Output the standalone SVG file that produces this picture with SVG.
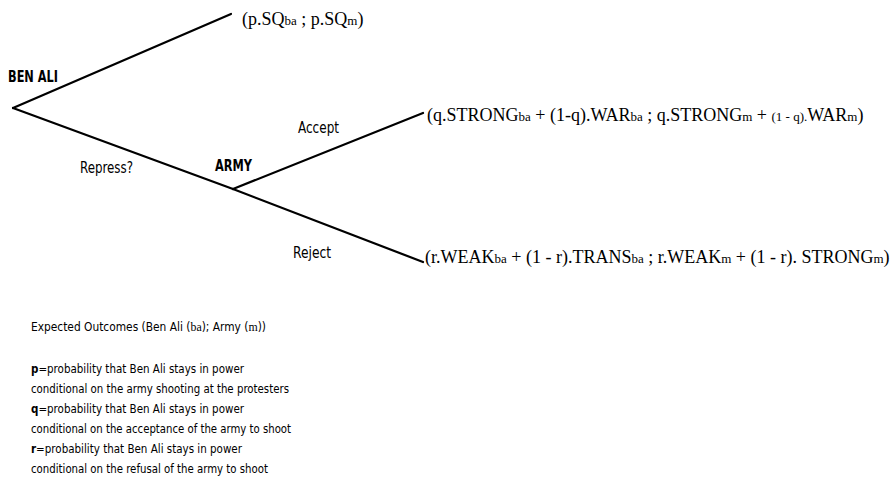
<svg xmlns="http://www.w3.org/2000/svg" width="895" height="480" viewBox="0 0 895 480">
<style>
.edge{stroke:#000;stroke-width:2.2;fill:none;stroke-linecap:round}
.lbl{font-family:"DejaVu Sans Condensed","Liberation Sans",sans-serif;font-stretch:condensed;font-size:15px;fill:#000}
.b{font-weight:bold;font-size:16px}
.pay{font-family:"Liberation Serif","DejaVu Serif",serif;font-size:18px;fill:#000}
.sub{font-size:13px}
.note{font-family:"DejaVu Sans Condensed","Liberation Sans",sans-serif;font-stretch:condensed;font-size:12px;fill:#000}
.ser{font-family:"Liberation Serif","DejaVu Serif",serif}
</style>
<rect width="895" height="480" fill="#fff"/>
<g id="connectors">
<line class="edge" x1="13" y1="108" x2="231" y2="14"/>
<line class="edge" x1="13" y1="108" x2="233" y2="189"/>
<line class="edge" x1="233" y1="189" x2="423" y2="113"/>
<line class="edge" x1="233" y1="189" x2="423" y2="262"/>
<text class="lbl" x="80" y="173" textLength="53" lengthAdjust="spacingAndGlyphs">Repress?</text>
<text class="lbl" x="298" y="133" textLength="41" lengthAdjust="spacingAndGlyphs">Accept</text>
<text class="lbl" x="293" y="258" textLength="38" lengthAdjust="spacingAndGlyphs">Reject</text>
</g>
<g id="benali"><text class="lbl b" x="8" y="82" textLength="50" lengthAdjust="spacingAndGlyphs">BEN ALI</text></g>
<g id="army"><text class="lbl b" x="215" y="171" textLength="37" lengthAdjust="spacingAndGlyphs">ARMY</text></g>
<g id="outcome-sq"><text class="pay" x="242" y="25">(p.SQ<tspan class="sub">ba</tspan> ; p.SQ<tspan class="sub">m</tspan>)</text></g>
<g id="outcome-accept"><text class="pay" x="427" y="121">(q.STRONG<tspan class="sub">ba</tspan> + (1-q).WAR<tspan class="sub">ba</tspan> ; q.STRONG<tspan class="sub">m</tspan> + <tspan class="sub">(1 - q).</tspan>WAR<tspan class="sub">m</tspan>)</text></g>
<g id="outcome-reject"><text class="pay" x="425" y="263">(r.WEAK<tspan class="sub">ba</tspan> + (1 - r).TRANS<tspan class="sub">ba</tspan> ; r.WEAK<tspan class="sub">m</tspan> + (1 - r). STRONG<tspan class="sub">m</tspan>)</text></g>
<g id="legend">
<text class="note" x="31" y="331" textLength="235" lengthAdjust="spacingAndGlyphs">Expected Outcomes (Ben Ali (<tspan class="ser">ba</tspan>); Army (<tspan class="ser">m</tspan>))</text>
<text class="note" x="31" y="373" textLength="213" lengthAdjust="spacingAndGlyphs"><tspan font-weight="bold">p</tspan>=probability that Ben Ali stays in power</text>
<text class="note" x="31" y="393" textLength="258" lengthAdjust="spacingAndGlyphs">conditional on the army shooting at the protesters</text>
<text class="note" x="31" y="413" textLength="213" lengthAdjust="spacingAndGlyphs"><tspan font-weight="bold">q</tspan>=probability that Ben Ali stays in power</text>
<text class="note" x="31" y="433" textLength="260" lengthAdjust="spacingAndGlyphs">conditional on the acceptance of the army to shoot</text>
<text class="note" x="31" y="453" textLength="211" lengthAdjust="spacingAndGlyphs"><tspan font-weight="bold">r</tspan>=probability that Ben Ali stays in power</text>
<text class="note" x="31" y="473" textLength="237" lengthAdjust="spacingAndGlyphs">conditional on the refusal of the army to shoot</text>
</g>
</svg>
